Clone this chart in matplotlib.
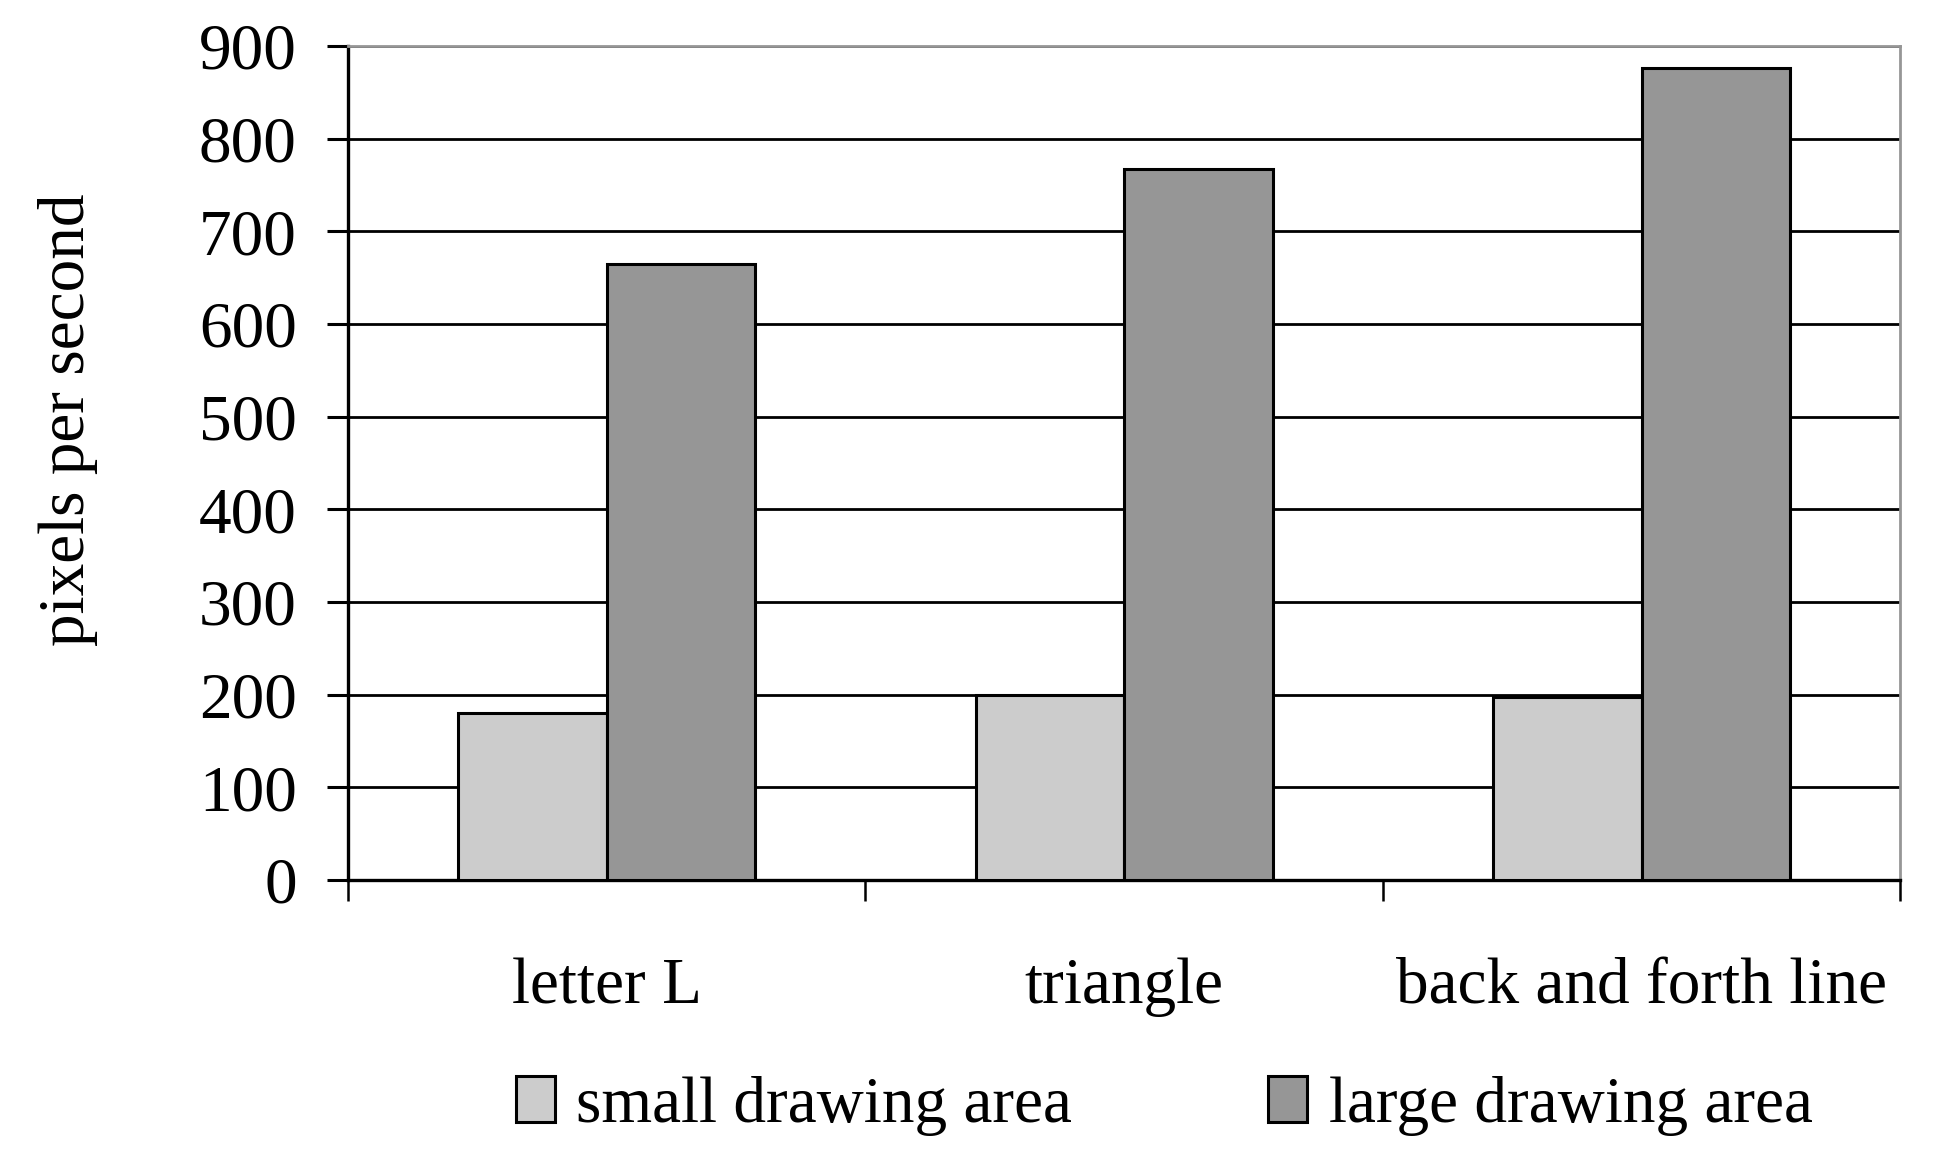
import numpy as np
import matplotlib.pyplot as plt

categories = ["letter L", "triangle", "back and forth line"]
small_area = [180, 200, 198]
large_area = [665, 767, 876]
series_names = ["small drawing area", "large drawing area"]
yticks = [0, 100, 200, 300, 400, 500, 600, 700, 800, 900]

plt.rcParams["font.family"] = ["Liberation Serif", "DejaVu Serif"]
fs = 47

fig = plt.figure(figsize=(19.37, 11.74), dpi=100)
ax = fig.add_axes([0.1797, 0.2504, 0.981 - 0.1797, 0.9608 - 0.2504])

x = np.arange(len(categories))
w = 0.287
b1 = ax.bar(x - w / 2, small_area, w, color="#cccccc", edgecolor="black", linewidth=2.2, zorder=3,
            label=series_names[0])
b2 = ax.bar(x + w / 2, large_area, w, color="#969696", edgecolor="black", linewidth=2.2, zorder=3,
            label=series_names[1])

ax.set_xlim(-0.5, 2.5)
ax.set_ylim(0, 900)
ax.set_yticks(yticks)
ax.yaxis.grid(True, color="black", linewidth=2, zorder=0)
ax.set_axisbelow(True)

ax.set_xticks(x)
ax.set_xticklabels(categories)
ax.set_xticks([-0.5, 0.5, 1.5, 2.5], minor=True)
ax.tick_params(axis="x", which="major", length=0, pad=56, labelsize=fs)
ax.tick_params(axis="x", which="minor", length=15, width=1.8, direction="out")
ax.tick_params(axis="y", length=15, width=2.2, direction="out", pad=22, labelsize=fs)

for s in ["top", "right"]:
    ax.spines[s].set_color("#969696")
    ax.spines[s].set_linewidth(2)
ax.spines["left"].set_linewidth(2.4)
ax.spines["bottom"].set_linewidth(2.4)

fig.text(0.035, 1 - 420 / 1174, "pixels per second", rotation=90, fontsize=fs,
         ha="center", va="center")

fig.legend(handles=[b1, b2], loc="center", bbox_to_anchor=(0.601, 0.058), ncol=2,
           frameon=False, fontsize=fs, handlelength=0.6, handleheight=0.7,
           handletextpad=0.33, columnspacing=3.0)

fig.savefig("out.png", dpi=100)
